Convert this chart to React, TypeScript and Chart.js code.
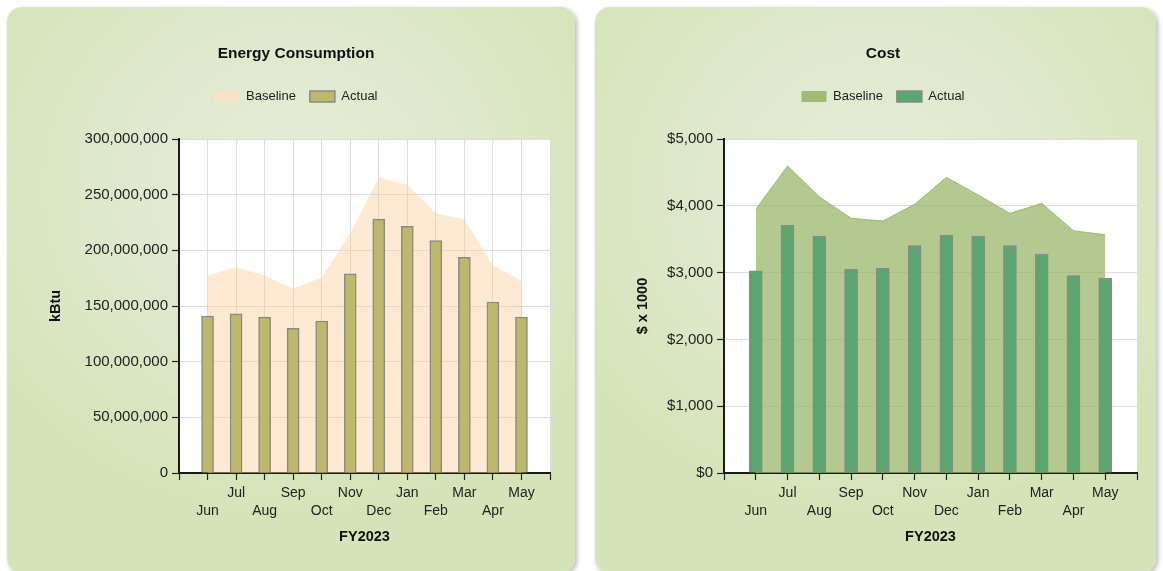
import React, { useEffect, useRef } from 'react';
import { Chart, registerables } from 'chart.js';

Chart.register(...registerables);

const FONT = "'Liberation Sans', Arial, Helvetica, sans-serif";

// ---------- data ----------
const months = ['Jun', 'Jul', 'Aug', 'Sep', 'Oct', 'Nov', 'Dec', 'Jan', 'Feb', 'Mar', 'Apr', 'May'];

const energyBaseline = [177500000, 184700000, 177500000, 165600000, 175500000, 215300000, 265600000, 258700000, 233000000, 228000000, 186500000, 172500000];
const energyActual = [141000000, 143000000, 140000000, 130000000, 136500000, 179000000, 228000000, 221600000, 208700000, 193700000, 153600000, 140000000];

const costBaseline = [3947, 4596, 4136, 3813, 3772, 4022, 4426, 4162, 3887, 4037, 3627, 3567];
const costActual = [3028, 3708, 3548, 3049, 3064, 3403, 3563, 3548, 3403, 3278, 2954, 2919];

const energyYMax = 300000000;
const energyYStep = 50000000;
const costYMax = 5000;
const costYStep = 1000;

const fiscalYear = 'FY2023';

// ---------- helpers ----------
// staggered two-row month labels with empty slots at both ends
const axisLabels = ['', ...months.map((m, i) => (i % 2 === 0 ? ['', m] : m)), ''];
const pad = (arr: number[]) => [null, ...arr, null];

const plotBg = {
  id: 'plotBg',
  beforeDraw(chart: any) {
    const { ctx, chartArea: a } = chart;
    ctx.save();
    ctx.fillStyle = '#ffffff';
    ctx.fillRect(a.left, a.top, a.right - a.left, a.bottom - a.top);
    ctx.restore();
  },
};

type Cfg = {
  title: string;
  yTitle: string;
  baseline: number[];
  actual: number[];
  areaFill: string;
  areaBorder: string;
  areaBorderWidth: number;
  legendAreaFill: string;
  barFill: string;
  barThickness: number;
  yMax: number;
  yStep: number;
  yFormat: (v: number) => string;
  vGrid: boolean;
  padLeft: number;
  padRight: number;
  yWidth: number;
  xHeight: number;
};

function buildConfig(c: Cfg): any {
  return {
    type: 'bar',
    data: {
      labels: axisLabels,
      datasets: [
        {
          type: 'line',
          label: 'Baseline',
          data: pad(c.baseline),
          backgroundColor: c.areaFill,
          borderColor: c.areaBorder,
          borderWidth: c.areaBorderWidth,
          fill: 'origin',
          pointRadius: 0,
          tension: 0,
          order: 1,
        },
        {
          type: 'bar',
          label: 'Actual',
          data: pad(c.actual),
          backgroundColor: c.barFill,
          borderColor: '#8a8a86',
          borderWidth: 1.5,
          barThickness: c.barThickness,
          order: 0,
        },
      ],
    },
    options: {
      responsive: false,
      animation: false,
      layout: { padding: { left: c.padLeft, right: c.padRight, top: 0, bottom: 0 } },
      plugins: {
        tooltip: { enabled: false },
        title: {
          display: true,
          text: c.title,
          color: '#111',
          font: { family: FONT, size: 15.5, weight: 'bold' },
          padding: { top: 37, bottom: 13.4 },
        },
        legend: {
          display: true,
          position: 'top',
          labels: {
            boxWidth: 25,
            boxHeight: 11,
            padding: 14,
            color: '#222',
            font: { family: FONT, size: 13 },
            sort: (a: any, b: any) => a.datasetIndex - b.datasetIndex,
            generateLabels: (chart: any) => {
              const items = Chart.defaults.plugins.legend.labels.generateLabels(chart);
              items.forEach((it: any) => {
                if (it.datasetIndex === 0) {
                  it.fillStyle = c.legendAreaFill;
                  it.lineWidth = 0;
                }
              });
              return items;
            },
          },
        },
        subtitle: {
          display: true,
          text: ' ',
          weight: 500,
          color: 'rgba(0,0,0,0)',
          font: { family: FONT, size: 10 },
          padding: { top: 14, bottom: 0 },
        },
      },
      scales: {
        x: {
          type: 'category',
          offset: false,
          afterFit: (s: any) => {
            s.height = c.xHeight;
          },
          grid: {
            offset: false,
            display: true,
            drawOnChartArea: c.vGrid,
            color: '#dcdcdc',
            lineWidth: 1,
            drawTicks: true,
            tickLength: 7,
            tickColor: '#222',
            tickWidth: 1.2,
          },
          border: { display: true, color: '#1a1a1a', width: 2 },
          ticks: {
            autoSkip: false,
            maxRotation: 0,
            minRotation: 0,
            padding: 4,
            color: '#222',
            font: { family: FONT, size: 14, lineHeight: 1.3 },
          },
          title: {
            display: true,
            text: fiscalYear,
            color: '#111',
            font: { family: FONT, size: 14.5, weight: 'bold' },
            padding: { top: 0, bottom: 27.8 },
          },
        },
        y: {
          min: 0,
          max: c.yMax,
          afterFit: (s: any) => {
            s.width = c.yWidth;
          },
          grid: {
            color: '#dcdcdc',
            lineWidth: 1,
            drawTicks: true,
            tickLength: 7,
            tickColor: '#222',
            tickWidth: 1.2,
          },
          border: { display: true, color: '#1a1a1a', width: 2 },
          ticks: {
            stepSize: c.yStep,
            padding: 4,
            color: '#222',
            font: { family: FONT, size: 15 },
            callback: (v: any) => c.yFormat(Number(v)),
          },
          title: {
            display: true,
            text: c.yTitle,
            color: '#111',
            font: { family: FONT, size: 14.5, weight: 'bold' },
            padding: { top: 4.8, bottom: 0 },
          },
        },
      },
    },
    plugins: [plotBg],
  };
}

function Panel(props: { left: number; top: number; width: number; height: number; cfg: Cfg }) {
  const ref = useRef<HTMLCanvasElement | null>(null);
  useEffect(() => {
    if (!ref.current) return;
    const chart = new Chart(ref.current, buildConfig(props.cfg));
    return () => chart.destroy();
  }, []);
  return (
    <div
      style={{
        position: 'absolute',
        left: props.left,
        top: props.top,
        width: props.width,
        height: props.height,
        borderRadius: 15,
        background:
          'radial-gradient(ellipse 62% 58% at 50% 32%, #e6edd8 0%, #e0e9cf 45%, #d5e4b8 100%)',
        boxShadow: '2px 2px 5px rgba(0,0,0,0.28)',
        overflow: 'hidden',
      }}
    >
      <canvas ref={ref} width={props.width} height={props.height} style={{ display: 'block' }} />
    </div>
  );
}

const fmtNum = (v: number) => v.toLocaleString('en-US');
const fmtUsd = (v: number) => '$' + v.toLocaleString('en-US');

export default function App() {
  const energyCfg: Cfg = {
    title: 'Energy Consumption',
    yTitle: 'kBtu',
    baseline: energyBaseline,
    actual: energyActual,
    areaFill: 'rgba(252,206,155,0.44)',
    areaBorder: 'rgba(252,206,155,0.44)',
    areaBorderWidth: 0,
    legendAreaFill: '#f9e3c8',
    barFill: '#bdb86c',
    barThickness: 12,
    yMax: energyYMax,
    yStep: energyYStep,
    yFormat: fmtNum,
    vGrid: true,
    padLeft: 35,
    padRight: 25,
    yWidth: 137,
    xHeight: 100,
  };
  const costCfg: Cfg = {
    title: 'Cost',
    yTitle: '$ x 1000',
    baseline: costBaseline,
    actual: costActual,
    areaFill: 'rgba(150,180,100,0.72)',
    areaBorder: 'rgba(145,176,96,0.8)',
    areaBorderWidth: 1,
    legendAreaFill: '#a1bb72',
    barFill: '#5aa66e',
    barThickness: 13,
    yMax: costYMax,
    yStep: costYStep,
    yFormat: fmtUsd,
    vGrid: false,
    padLeft: 34,
    padRight: 19,
    yWidth: 95,
    xHeight: 100,
  };
  return (
    <div>
      <Panel left={7} top={7} width={568} height={566} cfg={energyCfg} />
      <Panel left={595} top={7} width={561} height={566} cfg={costCfg} />
    </div>
  );
}
